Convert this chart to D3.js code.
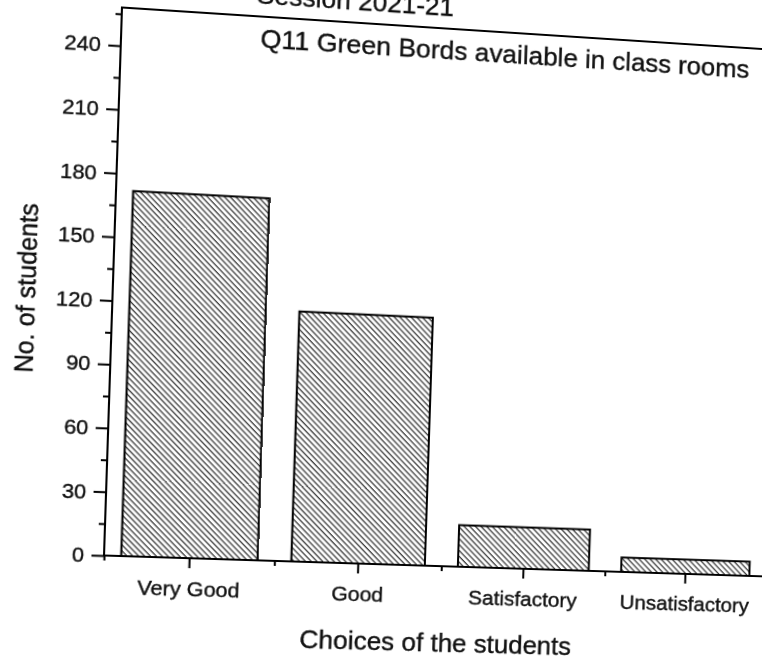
<!DOCTYPE html>
<html>
<head>
<meta charset="utf-8">
<script src="https://cdn.jsdelivr.net/npm/d3@7"></script>
<style>
  html, body { margin: 0; padding: 0; width: 762px; height: 662px; overflow: hidden; background: #fff; }
  #chart { position: absolute; left: 0; top: 0; transform-origin: 0 0; }
  text { font-family: "Liberation Sans", Arial, sans-serif; fill: #111; stroke: #111; stroke-width: 0.4px; }
</style>
</head>
<body>
<svg id="chart" width="820" height="740"></svg>
<script>
// Survey data: answers to Q11 about green boards in class rooms
const categories = ["Very Good", "Good", "Satisfactory", "Unsatisfactory"];
const students = [172, 119, 20, 7];
const yMajorTicks = [0, 30, 60, 90, 120, 150, 180, 210, 240];
const yMinorTicks = [15, 45, 75, 105, 135, 165, 195, 225, 255];
const sessionText = "Session 2021-21";
const questionText = "Q11 Green Bords available in class rooms";
const yTitle = "No. of students";
const xTitle = "Choices of the students";

const OFF = 30; // room above the frame for the session line
const svg = d3.select("#chart");
const g = svg.append("g").attr("transform", `translate(0,${OFF})`);

// plot frame
const frame = { left: 105, right: 775, top: 8, bottom: 555, bandRight: 766 };

const x = d3.scaleBand().domain(categories).range([frame.left, frame.bandRight])
  .paddingInner(0.2).paddingOuter(0.1);
const xEdge = d3.scaleLinear().domain([0.5, categories.length + 0.5]).range([frame.left, frame.bandRight]);
const y = d3.scaleLinear().domain([0, 258]).range([frame.bottom, frame.top]);

// hatch fill
const defs = svg.append("defs");
defs.append("pattern")
  .attr("id", "hatch")
  .attr("patternUnits", "userSpaceOnUse")
  .attr("width", 4.1).attr("height", 10)
  .attr("patternTransform", "rotate(-45)")
  .append("line")
  .attr("x1", 1).attr("y1", -2).attr("x2", 1).attr("y2", 12)
  .attr("stroke", "#333").attr("stroke-width", 1.25);

// bars
g.selectAll("rect.bar").data(categories).join("rect")
  .attr("class", "bar")
  .attr("x", d => x(d))
  .attr("width", x.bandwidth())
  .attr("y", (d, i) => y(students[i]))
  .attr("height", (d, i) => y(0) - y(students[i]))
  .attr("fill", "url(#hatch)")
  .attr("stroke", "#000")
  .attr("stroke-width", 2);

// axes
function styleAxis(sel) {
  sel.select(".domain").remove();
  sel.selectAll(".tick line").attr("stroke", "#000").attr("stroke-width", 2);
  sel.selectAll(".tick text").attr("fill", "#111")
    .style("font-family", "'Liberation Sans', Arial, sans-serif");
}

g.append("g").attr("transform", `translate(${frame.left},0)`)
  .call(d3.axisLeft(y).tickValues(yMajorTicks).tickSize(12).tickPadding(7).tickSizeOuter(0))
  .call(styleAxis)
  .call(s => s.selectAll(".tick text").style("font-size", "21px"));

g.append("g").attr("transform", `translate(${frame.left},0)`)
  .call(d3.axisLeft(y).tickValues(yMinorTicks).tickSize(6).tickFormat("").tickSizeOuter(0))
  .call(styleAxis);

g.append("g").attr("transform", `translate(0,${frame.bottom})`)
  .call(d3.axisBottom(x).tickSize(10).tickPadding(13.5).tickSizeOuter(0))
  .call(styleAxis)
  .call(s => s.selectAll(".tick text").style("font-size", "21px"));

g.append("g").attr("transform", `translate(0,${frame.bottom})`)
  .call(d3.axisBottom(xEdge).tickValues(d3.range(0.5, categories.length + 1, 1)).tickSize(5).tickFormat("").tickSizeOuter(0))
  .call(styleAxis);

// frame
g.append("rect")
  .attr("x", frame.left).attr("y", frame.top)
  .attr("width", frame.right - frame.left).attr("height", frame.bottom - frame.top)
  .attr("fill", "none").attr("stroke", "#000").attr("stroke-width", 2);

// titles
g.append("text").attr("x", 235).attr("y", -5)
  .style("font-size", "26px").text(sessionText);
g.append("text").attr("x", 240).attr("y", 39)
  .style("font-size", "26.4px").text(questionText);
g.append("text")
  .attr("transform", "translate(31,292) rotate(-90)")
  .attr("text-anchor", "middle")
  .style("font-size", "25px").text(yTitle);
g.append("text").attr("x", 433).attr("y", 642)
  .attr("text-anchor", "middle")
  .style("font-size", "26px").text(xTitle);

// page is seen at a slant: map the flat chart through a projective transform
function homography(src, dst) {
  const A = [], b = [];
  for (let i = 0; i < 4; i++) {
    const [sx, sy] = src[i], [dx, dy] = dst[i];
    A.push([sx, sy, 1, 0, 0, 0, -dx * sx, -dx * sy]); b.push(dx);
    A.push([0, 0, 0, sx, sy, 1, -dy * sx, -dy * sy]); b.push(dy);
  }
  const n = 8;
  for (let c = 0; c < n; c++) {
    let p = c;
    for (let r = c + 1; r < n; r++) if (Math.abs(A[r][c]) > Math.abs(A[p][c])) p = r;
    [A[c], A[p]] = [A[p], A[c]]; [b[c], b[p]] = [b[p], b[c]];
    for (let r = 0; r < n; r++) {
      if (r === c) continue;
      const f = A[r][c] / A[c][c];
      for (let k = c; k < n; k++) A[r][k] -= f * A[c][k];
      b[r] -= f * b[c];
    }
  }
  return b.map((v, i) => v / A[i][i]);
}
const h = homography(
  [[frame.left, frame.top + OFF], [frame.left, frame.bottom + OFF], [745, frame.top + OFF], [745, frame.bottom + OFF]],
  [[122, 7.5], [104, 555.5], [762, 49], [745, 575.8]]
);
svg.style("transform",
  `matrix3d(${h[0]},${h[3]},0,${h[6]},${h[1]},${h[4]},0,${h[7]},0,0,1,0,${h[2]},${h[5]},0,1)`);
</script>
</body>
</html>
